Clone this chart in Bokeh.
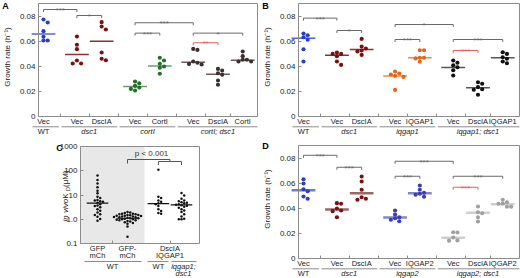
import numpy as np
from bokeh.plotting import figure
from bokeh.layouts import column, row
from bokeh.models import Range1d, FixedTicker, CustomJSTickFormatter
from bokeh.core.properties import value
from bokeh.embed import file_html
from bokeh.resources import INLINE

FONT = "Liberation Sans"
AXIS_GRAY = "#8c8c8c"
BR_GRAY = "#6a6a6a"
RED = "#e06060"
TXT = "#222222"
CAT_SIZE = "7.5px"

# ---------------- Panel A data ----------------
a_groups = ["WT", "dsc1", "cortI", "cortI; dsc1"]
a_cats = [["Vec"], ["Vec", "DscIA"], ["Vec", "CortI"], ["Vec", "DscIA", "CortI"]]
a_wt_vec = [0.0776, 0.0752, 0.0683, 0.0638, 0.0608, 0.0608]
a_dsc1_vec = [0.0640, 0.0574, 0.0539, 0.0448, 0.0424, 0.0424]
a_dsc1_dscia = [0.0755, 0.0720, 0.0696, 0.0512, 0.0462, 0.0450]
a_cort_vec = [0.0280, 0.0266, 0.0245, 0.0232, 0.0221, 0.0208]
a_cort_cort = [0.0470, 0.0448, 0.0422, 0.0400, 0.0390, 0.0342]
a_cd_vec = [0.0541, 0.0533, 0.0440, 0.0430, 0.0421, 0.0416]
a_cd_dscia = [0.0381, 0.0368, 0.0346, 0.0335, 0.0288, 0.0254]
a_cd_cort = [0.0520, 0.0483, 0.0454, 0.0454, 0.0440, 0.0440]
a_lines = [0.0661, 0.0496, 0.0603, 0.0240, 0.0405, 0.0435, 0.0339, 0.0450]
a_brackets = [(0, 1, 0.0856, "***", BR_GRAY), (1, 2, 0.0808, "*", BR_GRAY),
              (3, 5, 0.0750, "***", BR_GRAY), (3, 4, 0.0667, "***", BR_GRAY),
              (5, 7, 0.0667, "*", BR_GRAY), (5, 6, 0.0590, "**", RED)]

# ---------------- Panel B data ----------------
b_groups = ["WT", "dsc1", "iqgap1", "iqgap1; dsc1"]
b_cats = [["Vec"], ["Vec", "DscIA"], ["Vec", "IQGAP1"], ["Vec", "DscIA", "IQGAP1"]]
b_wt_vec = [0.0664, 0.0650, 0.0634, 0.0614, 0.0538, 0.0440]
b_dsc1_vec = [0.0512, 0.0501, 0.0501, 0.0483, 0.0440, 0.0413]
b_dsc1_dscia = [0.0621, 0.0560, 0.0544, 0.0528, 0.0520, 0.0493]
b_iq_vec = [0.0360, 0.0344, 0.0336, 0.0325, 0.0317, 0.0213]
b_iq_iq = [0.0530, 0.0530, 0.0470, 0.0470, 0.0465, 0.0438]
b_id_vec = [0.0448, 0.0430, 0.0410, 0.0394, 0.0370, 0.0328]
b_id_dscia = [0.0274, 0.0262, 0.0235, 0.0218, 0.0214, 0.0174]
b_id_iq = [0.0514, 0.0501, 0.0474, 0.0462, 0.0440, 0.0426]
b_lines = [0.0627, 0.0490, 0.0536, 0.0325, 0.0470, 0.0392, 0.0230, 0.0470]
b_brackets = [(0, 1, 0.0787, "***", BR_GRAY), (1, 2, 0.0688, "*", BR_GRAY),
              (3, 5, 0.0736, "*", BR_GRAY), (3, 4, 0.0616, "***", BR_GRAY),
              (5, 7, 0.0616, "***", BR_GRAY), (5, 6, 0.0528, "***", RED)]

# ---------------- Panel D data ----------------
d_groups = ["WT", "dsc1", "iqgap2", "iqgap2; dsc1"]
d_cats = [["Vec"], ["Vec", "DscIA"], ["Vec", "IQGAP2"], ["Vec", "DscIA", "IQGAP2"]]
d_wt_vec = [0.0634, 0.0600, 0.0554, 0.0538, 0.0496, 0.0478]
d_dsc1_vec = [0.0443, 0.0438, 0.0400, 0.0384, 0.0379, 0.0330]
d_dsc1_dscia = [0.0656, 0.0616, 0.0550, 0.0490, 0.0478, 0.0470]
d_iq_vec = [0.0384, 0.0352, 0.0330, 0.0322, 0.0310, 0.0298]
d_iq_iq = [0.0584, 0.0550, 0.0526, 0.0518, 0.0510, 0.0494]
d_id_vec = [0.0210, 0.0208, 0.0168, 0.0145, 0.0143]
d_id_dscia = [0.0416, 0.0370, 0.0362, 0.0330, 0.0296]
d_id_iq = [0.0470, 0.0450, 0.0440, 0.0438, 0.0414, 0.0414]
d_lines = [0.0547, 0.0392, 0.0523, 0.0328, 0.0523, 0.0166, 0.0366, 0.0435]
d_brackets = [(0, 1, 0.0826, "***", BR_GRAY), (1, 2, 0.0730, "***", BR_GRAY),
              (3, 5, 0.0778, "***", BR_GRAY), (3, 4, 0.0658, "***", BR_GRAY),
              (5, 7, 0.0658, "***", BR_GRAY), (5, 6, 0.0570, "***", RED)]

# ---------------- Panel C data ----------------
c_gfp_mch = [63, 42, 30, 21, 15, 11.7, 8.5, 7.5, 6.2, 6.0, 5.5, 5.3, 4.8, 4.2,
             3.7, 3.5, 3.1, 2.6, 2.25, 1.9, 1.6, 1.5, 1.27, 1.02, 0.87]
c_gfp_dash_mch = [2.0, 1.9, 1.8, 1.7, 1.7, 1.6, 1.6, 1.5, 1.5, 1.45, 1.4, 1.4, 1.35,
                  1.3, 1.3, 1.25, 1.2, 1.2, 1.15, 1.1, 1.1, 1.05, 1.0, 1.0, 0.95,
                  0.9, 0.9, 0.85, 0.8, 0.75, 0.7, 0.65, 0.5, 0.19]
c_dscia_wt = [110, 8.5, 7.5, 6.0, 5.3, 4.6, 4.2, 3.5, 2.6, 2.2, 1.8, 1.7]
c_dscia_iqd = [12, 9.5, 7.0, 6.0, 5.5, 5.0, 4.8, 4.6, 4.2, 4.0, 3.8, 3.6, 3.3,
               3.0, 2.6, 2.3, 2.0, 1.6, 1.3, 1.05, 1.0, 1.0]
c_medians = [4.6, 1.1, 4.4, 3.9]
c_ticks = [0.1, 1, 10, 100, 1000]


def swarm(vals, thr, step, log=False, maxslot=8):
    v = np.log10(np.asarray(vals, float)) if log else np.asarray(vals, float)
    order = np.argsort(-v, kind="stable")
    placed = []
    offs = np.zeros(len(v))
    slots = [0]
    for k in range(1, maxslot + 1):
        slots += [k, -k]
    for i in order:
        chosen = slots[-1]
        for s in slots:
            if all(ps != s or abs(v[i] - pv) >= thr for pv, ps in placed):
                chosen = s
                break
        placed.append((v[i], chosen))
        offs[i] = chosen * step
    return offs


def T(p, x, y, text, size=CAT_SIZE, style="normal", align="center", baseline="middle",
      color=TXT, angle=0.0):
    p.text(x=[x], y=[y], text=[text], text_font=value(FONT), text_font_size=size,
           text_font_style=style, text_align=align, text_baseline=baseline,
           text_color=color, angle=angle)


def base_fig(W, H, xr, yr, log=False):
    kw = dict(width=W, height=H, x_range=Range1d(*xr), y_range=Range1d(*yr),
              output_backend="svg", toolbar_location=None, min_border=0)
    if log:
        kw["y_axis_type"] = "log"
    p = figure(**kw)
    p.xgrid.visible = False
    p.ygrid.visible = False
    p.outline_line_color = None
    p.background_fill_color = "white"
    p.border_fill_color = "white"
    return p


def style_axis(ax, ticks, code, labels=True):
    ax.ticker = FixedTicker(ticks=ticks)
    ax.formatter = CustomJSTickFormatter(code=code)
    ax.axis_line_color = AXIS_GRAY
    ax.axis_line_width = 1
    ax.major_tick_in = 3
    ax.major_tick_out = 0
    ax.major_tick_line_color = AXIS_GRAY
    ax.minor_tick_line_color = None
    ax.major_label_text_font = FONT
    ax.major_label_text_font_size = "8px" if labels else "1px"
    ax.major_label_text_color = TXT
    ax.major_label_standoff = 3


def growth_panel(letter, groups, cats, series, lines, pcols, lcols, lw, brackets,
                 W, H, box_l, box_r, box_t, zero_py, first_px=43, letter_xy=(5, 5)):
    ppu = 24.75
    dpp = 0.0008

    def X(px):
        return (px - first_px) / ppu

    def Y(py):
        return (zero_py - py) * dpp

    pos, spans, flat = [], [], []
    k = 0
    for gi, cl in enumerate(cats):
        st = len(pos)
        for c in cl:
            pos.append(k + gi * 0.35)
            flat.append(c)
            k += 1
        spans.append((pos[st], pos[-1]))

    p = base_fig(W, H, (X(0), X(W)), (Y(H), Y(0)))
    xl, xr, yt = X(box_l), X(box_r), Y(box_t)

    ya = p.yaxis[0]
    style_axis(ya, [0, 0.02, 0.04, 0.06, 0.08],
               "return tick == 0 ? '0' : tick.toFixed(2);")
    ya.fixed_location = xl
    ya.bounds = (0, yt)

    xa = p.xaxis[0]
    style_axis(xa, [(pos[i] + pos[i + 1]) / 2 for i in range(len(pos) - 1)],
               "return '';", labels=False)
    xa.fixed_location = 0
    xa.bounds = (xl, xr)

    # top and right edges of the box
    p.segment(x0=[xl, xr], y0=[yt, 0], x1=[xr, xr], y1=[yt, yt],
              line_color=AXIS_GRAY, line_width=1)

    for i, vals in enumerate(series):
        p.segment(x0=[pos[i] - 0.48], y0=[lines[i]], x1=[pos[i] + 0.48], y1=[lines[i]],
                  line_color=lcols[i], line_width=lw)
        offs = swarm(vals, thr=3.6 * dpp, step=4.2 / ppu)
        p.scatter(x=pos[i] + offs, y=vals, size=4.2, fill_color=pcols[i], line_color=None)

    t = 2.5 * dpp
    for (i, j, y, s, c) in brackets:
        p.line(x=[pos[i], pos[i], pos[j], pos[j]], y=[y - t, y, y, y - t],
               line_color=c, line_width=1)
        T(p, (pos[i] + pos[j]) / 2, y - 1.0 * dpp, s, size="8px", baseline="alphabetic",
          color=c)

    for i, c in enumerate(flat):
        T(p, pos[i], Y(zero_py + 5), c)
    bounds = [X(32) - 0.05]
    for gi in range(len(groups) - 1):
        bounds.append((spans[gi][1] + spans[gi + 1][0]) / 2)
    bounds.append(xr + 0.05)
    uy = Y(zero_py + 10.3)
    p.segment(x0=[b + 0.05 for b in bounds[:-1]], y0=[uy] * len(groups),
              x1=[b - 0.05 for b in bounds[1:]], y1=[uy] * len(groups),
              line_color=AXIS_GRAY, line_width=1)
    for gi, g in enumerate(groups):
        a, b = spans[gi]
        T(p, (a + b) / 2, Y(zero_py + 14.5), g, style="normal" if g == "WT" else "italic")

    T(p, X(6.5), Y((box_t + zero_py) / 2 - 3), "Growth rate (h\u207b\u00b9)",
      size="8px", angle=np.pi / 2)
    T(p, X(letter_xy[0]), Y(letter_xy[1]), letter, size="9px", style="bold", color="black")
    return p


def c_panel(W=260, H=138):
    ppu = 30.0
    dec = 24.25

    def X(px):
        return (px - 97) / ppu

    def Y(py):
        return 10 ** (3 - (py - 6) / dec)

    cpos = [0, 1, 2.03, 2.8]
    p = base_fig(W, H, (X(0), X(W)), (Y(H), Y(0)), log=True)
    xl, xr = X(80), X(199)

    p.quad(left=[xl], right=[X(144)], bottom=[0.1], top=[1000],
           fill_color="#e8e8e8", line_color=None)

    ya = p.yaxis[0]
    style_axis(ya, c_ticks,
               "if (tick < 0.5) return '0.1'; if (tick < 5) return '1.0'; return String(Math.round(tick));")
    ya.fixed_location = xl
    ya.bounds = (0.1, 1000)

    xa = p.xaxis[0]
    style_axis(xa, [0.5, 2.42], "return '';", labels=False)
    xa.fixed_location = 0.1
    xa.bounds = (xl, xr)

    p.segment(x0=[xl, xr], y0=[1000, 0.1], x1=[xr, xr], y1=[1000, 1000],
              line_color=AXIS_GRAY, line_width=1)

    series = [c_gfp_mch, c_gfp_dash_mch, c_dscia_wt, c_dscia_iqd]
    for i, vals in enumerate(series):
        p.segment(x0=[cpos[i] - 0.36], y0=[c_medians[i]], x1=[cpos[i] + 0.36],
                  y1=[c_medians[i]], line_color="#111111", line_width=1.2)
        offs = swarm(vals, thr=2.6 / dec, step=2.7 / ppu, log=True)
        p.scatter(x=cpos[i] + offs, y=vals, size=2.5, fill_color="#111111", line_color=None)

    bm = (cpos[2] + cpos[3]) / 2
    p.line(x=[cpos[1], cpos[1], bm, bm], y=[Y(23), Y(19), Y(19), Y(21)],
           line_color="#555555", line_width=1)
    p.line(x=[cpos[2], cpos[2], cpos[3], cpos[3]], y=[Y(24.5), Y(21), Y(21), Y(24.5)],
           line_color="#555555", line_width=1)
    T(p, X(151), Y(12.5), "p < 0.001", size="8px", color="#333333")

    T(p, cpos[0], Y(108), "GFP")
    T(p, cpos[0], Y(115), "mCh")
    T(p, cpos[1], Y(108), "GFP-")
    T(p, cpos[1], Y(115), "mCh")
    T(p, bm, Y(108), "DscIA")
    T(p, bm, Y(115), "IQGAP1")
    uy = Y(121)
    p.segment(x0=[X(84), X(147), X(171)], y0=[uy] * 3, x1=[X(141), X(168), X(196)],
              y1=[uy] * 3, line_color=AXIS_GRAY, line_width=1)
    T(p, X(112), Y(126), "WT")
    T(p, cpos[2], Y(126), "WT")
    T(p, X(183), Y(126), "iqgap1;", style="italic")
    T(p, X(183), Y(133), "dsc1", style="italic")

    # rotated y-axis label built from pieces
    bx = 65
    cur = 54.5 + 26.5
    pieces = [("in vivo", "8px", "italic", 22.7, 0),
              (" K", "8px", "normal", 7.5, 0),
              ("D", "6px", "normal", 4.3, 2),
              (" (\u03bcM)", "8px", "normal", 18.6, 0)]
    for txt, sz, st, ln, shift in pieces:
        T(p, X(bx + shift), Y(cur), txt, size=sz, style=st, align="left",
          baseline="alphabetic", angle=np.pi / 2)
        cur -= ln

    T(p, X(59), Y(7), "C", size="9px", style="bold", color="black")
    return p


blue_p, blue_l = "#2a3fc0", "#5566cc"
red_p, red_l = "#7a1111", "#8c2f2f"

pa = growth_panel(
    "A", a_groups, a_cats,
    [a_wt_vec, a_dsc1_vec, a_dsc1_dscia, a_cort_vec, a_cort_cort, a_cd_vec, a_cd_dscia, a_cd_cort],
    a_lines,
    [blue_p, red_p, red_p, "#22702a", "#22702a", "#3d2f2f", "#3d2f2f", "#3d2f2f"],
    [blue_l, red_l, red_l, "#67a06b", "#67a06b", "#6e5a5a", "#6e5a5a", "#6e5a5a"],
    1.5, a_brackets, 260, 140, 38, 257, 3, 116, letter_xy=(5, 5))

pb = growth_panel(
    "B", b_groups, b_cats,
    [b_wt_vec, b_dsc1_vec, b_dsc1_dscia, b_iq_vec, b_iq_iq, b_id_vec, b_id_dscia, b_id_iq],
    b_lines,
    [blue_p, red_p, red_p, "#e2671c", "#e2671c", "#111111", "#111111", "#111111"],
    [blue_l, red_l, red_l, "#eb8a4c", "#eb8a4c", "#555555", "#555555", "#555555"],
    1.5, b_brackets, 260, 140, 38, 259, 3, 116, letter_xy=(5, 5))

pc = c_panel(260, 138)

pd = growth_panel(
    "D", d_groups, d_cats,
    [d_wt_vec, d_dsc1_vec, d_dsc1_dscia, d_iq_vec, d_iq_iq, d_id_vec, d_id_dscia, d_id_iq],
    d_lines,
    ["#2f3eb5", red_p, red_p, "#3c3cb4", "#3c3cb4", "#a0a0a0", "#a0a0a0", "#a0a0a0"],
    ["#6f7ad0", "#a06666", "#a06666", "#8585cc", "#8585cc", "#cfcfcf", "#cfcfcf", "#cfcfcf"],
    2.5, d_brackets, 260, 138, 38, 259, 5, 118, letter_xy=(5, 5))

layout = column(row(pa, pb), row(pc, pd))
open("out.html", "w").write(file_html(layout, INLINE))
